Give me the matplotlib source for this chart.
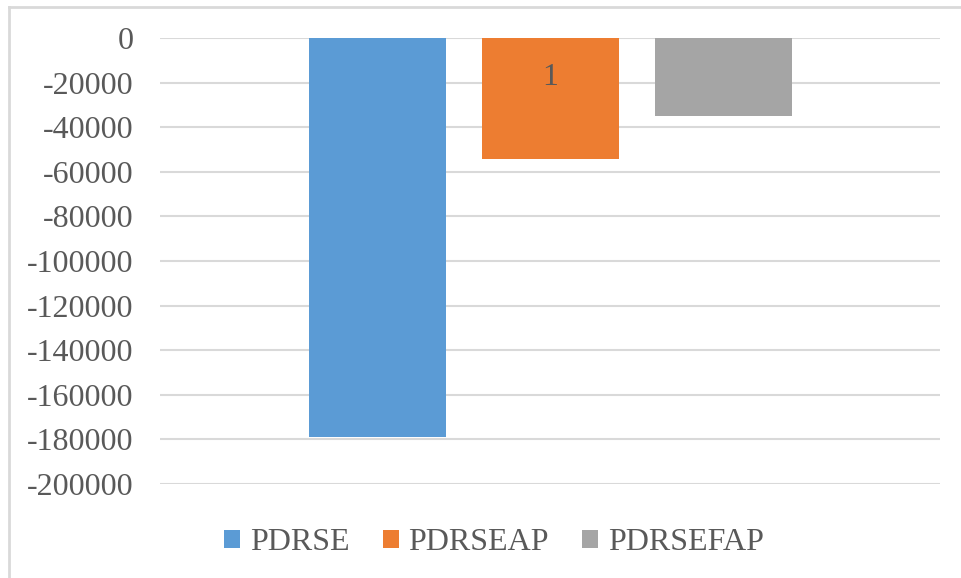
import matplotlib.pyplot as plt
from matplotlib.lines import Line2D
import matplotlib.transforms as mtransforms

# data
categories = ['1']
series_names = ['PDRSE', 'PDRSEAP', 'PDRSEFAP']
series_values = [[-179000], [-54300], [-35100]]
series_colors = ['#5b9bd5', '#ed7d31', '#a5a5a5']
y_ticks = [0, -20000, -40000, -60000, -80000, -100000, -120000,
           -140000, -160000, -180000, -200000]

plt.rcParams['font.family'] = ['Liberation Serif', 'DejaVu Serif']

fig = plt.figure(figsize=(9.62, 5.78), dpi=100)
ax = fig.add_axes([160 / 962, 1 - 484 / 578, 780 / 962, 446 / 578])

largura = 137 / 780
passo = 173 / 780
for i, (nome, valores, cor) in enumerate(zip(series_names, series_values, series_colors)):
    pos = [k + (i - 1) * passo for k in range(len(categories))]
    ax.bar(pos, valores, width=largura, color=cor, label=nome, zorder=2)

ax.set_xlim(-0.5, len(categories) - 0.5)
ax.set_ylim(-200000, 0)
ax.set_yticks(y_ticks)
ax.set_yticklabels([str(v) for v in y_ticks])
ax.grid(axis='y', color='#d9d9d9', linewidth=1.5, zorder=0)
for lado in ax.spines.values():
    lado.set_visible(False)

ax.tick_params(axis='y', length=0, labelsize=23, labelcolor='#595959', pad=19)
ax.set_xticks([])

# rotulo da categoria (eixo cruza em 0, fica logo abaixo)
trans = mtransforms.blended_transform_factory(ax.transData, ax.transAxes)
for k, cat in enumerate(categories):
    ax.text(k, 1 - 40 / 446, cat, transform=trans, ha='center', va='center',
            fontsize=23, color='#595959', zorder=5)

# legenda centrada na figura
ax.legend(loc='center', bbox_to_anchor=(494 / 962, 1 - 543 / 578), bbox_transform=fig.transFigure,
          ncol=3, frameon=False, fontsize=23, labelcolor='#595959',
          handlelength=0.5, handleheight=0.5, handletextpad=0.3, columnspacing=1.05)

# moldura do grafico
fig.add_artist(Line2D([9 / 962, 9 / 962], [0, 1 - 7 / 578], color='#d9d9d9',
                      linewidth=2, transform=fig.transFigure))
fig.add_artist(Line2D([9 / 962, 1], [1 - 7 / 578, 1 - 7 / 578], color='#d9d9d9',
                      linewidth=2, transform=fig.transFigure))

fig.savefig('out.png', dpi=100)
